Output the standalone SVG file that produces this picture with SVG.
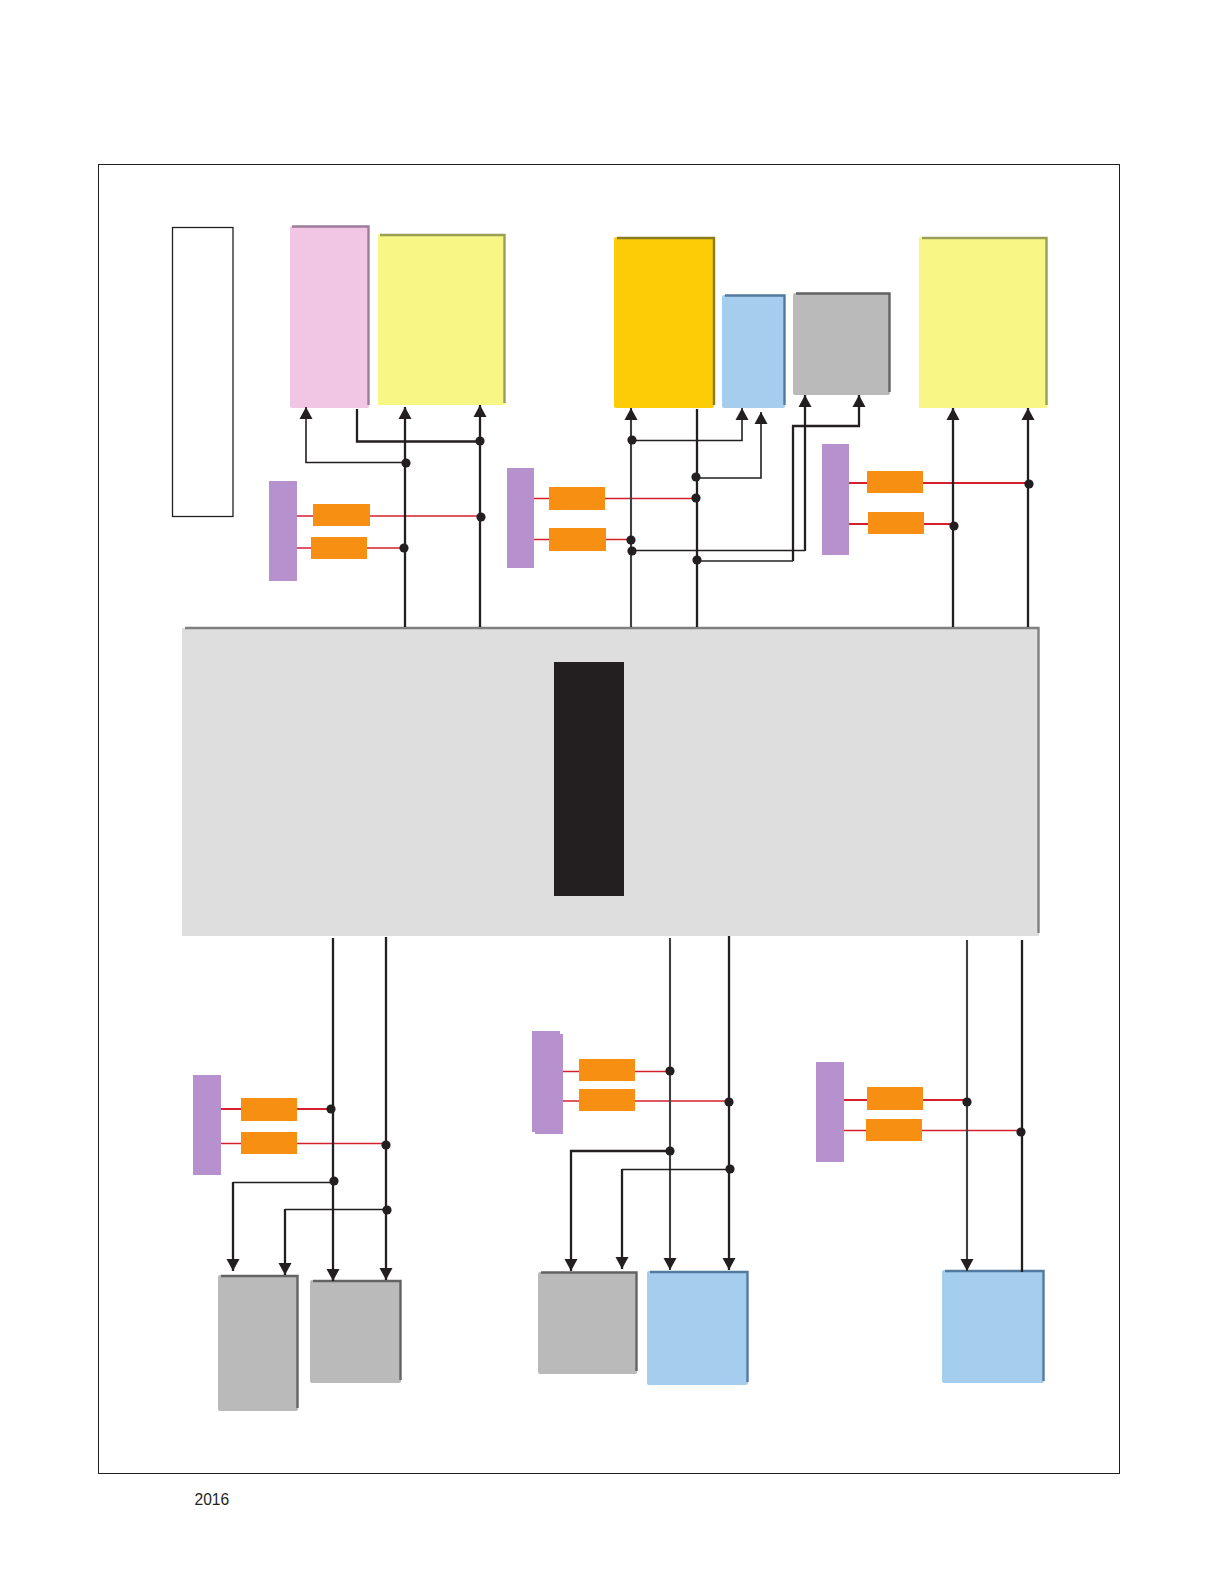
<svg xmlns="http://www.w3.org/2000/svg" width="1219" height="1587" viewBox="0 0 1219 1587">
<style>
.purple{fill:#b791cd}
.orange{fill:#f78f12}
.pink{fill:#f1c6e4}.pink-e{stroke:#9c7c99}
.yellow{fill:#f8f785}.yellow-e{stroke:#98a055}
.amber{fill:#fccc07}.amber-e{stroke:#8a7a20}
.blue{fill:#a5cded}.blue-e{stroke:#527a9f}
.gray{fill:#bbbabb}.gray-e{stroke:#636365}
.main{fill:#dedede}.main-e{stroke:#808080}
.e{fill:none;stroke-width:2.4}
.w{fill:none;stroke:#231f20;stroke-width:2.3}
.t{fill:none;stroke:#231f20;stroke-width:1.6}
.g{fill:none;stroke:#3f3f40;stroke-width:2.1}
.r{fill:none;stroke:#d4202c;stroke-width:1.3}
.rb{fill:none;stroke:#d4202c;stroke-width:2}
.a{marker-end:url(#arr)}
.dot{fill:#231f20}
</style>
<defs>
<marker id="arr" markerUnits="userSpaceOnUse" markerWidth="13" markerHeight="13" refX="12" refY="6.500" orient="auto" overflow="visible">
<path d="M0 0L12 6.500L0 13Z" fill="#231f20"/>
</marker>
</defs>
<rect id="frame" x="98.500" y="164.500" width="1021" height="1309" fill="#fff" stroke="#231f20" stroke-width="1"/>
<g id="legend-box"><rect x="172.500" y="227.500" width="60.500" height="289" fill="#fff" stroke="#231f20" stroke-width="1.300"/></g>

<g id="box-pink"><rect class="pink" x="290" y="226" width="79" height="182" rx="2"/><path class="e pink-e" d="M292 226.500H368.500V405"/></g>
<g id="box-yellow-1"><rect class="yellow" x="378" y="234" width="127" height="171"/><path class="e yellow-e" d="M380 235H504.500V403"/></g>
<g id="box-amber"><rect class="amber" x="614" y="237" width="100" height="171" rx="2"/><path class="e amber-e" d="M617 238H714V405"/></g>
<g id="box-blue-top"><rect class="blue" x="722" y="295" width="63" height="113" rx="2"/><path class="e blue-e" d="M725 295.500H784.500V405"/></g>
<g id="box-gray-top"><rect class="gray" x="793" y="293" width="97" height="102" rx="2"/><path class="e gray-e" d="M796 293.500H889.500V392"/></g>
<g id="box-yellow-2"><rect class="yellow" x="919" y="237" width="128" height="171"/><path class="e yellow-e" d="M922 238H1046.500V405"/></g>

<g id="hub"><rect class="main" x="182" y="628" width="857" height="308"/><path class="e main-e" d="M185 628H1038.500V933"/></g>
<g id="hub-core"><rect x="554" y="662" width="70" height="234" fill="#231f20"/></g>

<g id="box-gray-1"><rect class="gray" x="218" y="1275" width="80" height="136" rx="2"/><path class="e gray-e" d="M221 1276H297.500V1408"/></g>
<g id="box-gray-2"><rect class="gray" x="310" y="1280" width="91" height="103" rx="2"/><path class="e gray-e" d="M313 1281H400.500V1380"/></g>
<g id="box-gray-3"><rect class="gray" x="538" y="1272" width="99" height="102" rx="2"/><path class="e gray-e" d="M541 1272.500H636.500V1371"/></g>
<g id="box-blue-2"><rect class="blue" x="647" y="1271" width="101" height="114" rx="2"/><path class="e blue-e" d="M650 1272H747.500V1382"/></g>
<g id="box-blue-3"><rect class="blue" x="942" y="1270" width="102" height="113" rx="2"/><path class="e blue-e" d="M945 1271H1043.500V1381"/></g>

<g id="connectors">
<path class="r" d="M297 516H480"/><path class="r" d="M297 548H404"/>
<path class="r" d="M534 498.500H696"/><path class="r" d="M534 539.500H631"/>
<path class="rb" d="M849 483H1029"/><path class="rb" d="M849 524H954"/>
<path class="rb" d="M221 1109H331"/><path class="r" d="M221 1143.500H386"/>
<path class="r" d="M563 1071.500H670"/><path class="r" d="M563 1101H729"/>
<path class="rb" d="M844 1100H967"/><path class="r" d="M844 1130.500H1021"/>

<path class="w a" d="M405 627V407"/>
<path class="w a" d="M480 627V405"/>
<path class="t a" d="M406 462.500H306V407"/>
<path class="w" d="M357 409V441.500H480"/>

<path class="g a" d="M631 627V408"/>
<path class="w" d="M697 627V409"/>
<path class="t a" d="M632 440.500H742V408"/>
<path class="t a" d="M696 478H761V412"/>
<path class="t" d="M632 550.500H805"/>
<path class="w a" d="M805 551V395"/>
<path class="t" d="M697 561H793"/>
<path class="w a" d="M793 561V426H859V395"/>

<path class="w a" d="M953 627V408"/>
<path class="w a" d="M1028 627V408"/>

<path class="w a" d="M333 938V1281"/>
<path class="w a" d="M386 937V1280"/>
<path class="t" d="M334 1182.500H233"/><path class="w a" d="M233 1182V1271"/>
<path class="t" d="M387 1209.500H285"/><path class="w a" d="M285 1209V1275"/>

<path class="g a" d="M670 938V1270"/>
<path class="w a" d="M729 936V1270"/>
<path class="w a" d="M670 1151H571V1271"/>
<path class="t" d="M730 1169.500H622"/><path class="w a" d="M622 1169V1269"/>

<path class="g a" d="M967 940V1271"/>
<path class="w" d="M1022 940V1272"/>
</g>

<g id="junctions">
<circle class="dot" cx="406" cy="463" r="4.600"/><circle class="dot" cx="480" cy="441" r="4.600"/><circle class="dot" cx="481" cy="517" r="4.600"/><circle class="dot" cx="404" cy="548" r="4.600"/>
<circle class="dot" cx="632" cy="440" r="4.600"/><circle class="dot" cx="696" cy="477" r="4.600"/><circle class="dot" cx="696" cy="498" r="4.600"/><circle class="dot" cx="631" cy="540" r="4.600"/><circle class="dot" cx="632" cy="551" r="4.600"/><circle class="dot" cx="697" cy="560" r="4.600"/>
<circle class="dot" cx="1029" cy="484" r="4.600"/><circle class="dot" cx="954" cy="526" r="4.600"/>
<circle class="dot" cx="331" cy="1109" r="4.600"/><circle class="dot" cx="386" cy="1145" r="4.600"/><circle class="dot" cx="334" cy="1181" r="4.600"/><circle class="dot" cx="387" cy="1210" r="4.600"/>
<circle class="dot" cx="670" cy="1071" r="4.600"/><circle class="dot" cx="729" cy="1102" r="4.600"/><circle class="dot" cx="670" cy="1151" r="4.600"/><circle class="dot" cx="730" cy="1169" r="4.600"/>
<circle class="dot" cx="967" cy="1102" r="4.600"/><circle class="dot" cx="1021" cy="1132" r="4.600"/>
</g>

<g id="group-a"><rect class="purple" x="269" y="481" width="28" height="100"/><rect class="orange" x="313" y="504" width="57" height="22"/><rect class="orange" x="311" y="537" width="56" height="22"/></g>
<g id="group-b"><rect class="purple" x="507" y="468" width="27" height="100"/><rect class="orange" x="549" y="487" width="56" height="23"/><rect class="orange" x="549" y="528" width="57" height="23"/></g>
<g id="group-c"><rect class="purple" x="822" y="444" width="27" height="111"/><rect class="orange" x="867" y="471" width="56" height="22"/><rect class="orange" x="868" y="512" width="56" height="22"/></g>
<g id="group-d"><rect class="purple" x="193" y="1075" width="28" height="100"/><rect class="orange" x="241" y="1098" width="56" height="23"/><rect class="orange" x="241" y="1132" width="56" height="22"/></g>
<g id="group-e"><rect class="purple" x="532" y="1031" width="28" height="101"/><rect class="purple" x="535" y="1034" width="28" height="100"/><rect class="orange" x="579" y="1059" width="56" height="22"/><rect class="orange" x="579" y="1089" width="56" height="22"/></g>
<g id="group-f"><rect class="purple" x="816" y="1062" width="28" height="100"/><rect class="orange" x="867" y="1087" width="56" height="23"/><rect class="orange" x="866" y="1119" width="56" height="22"/></g>

<text x="194.500" y="1505" font-family="'Liberation Sans',Arial,sans-serif" font-size="15.600" fill="#231f20">2016</text>
</svg>
